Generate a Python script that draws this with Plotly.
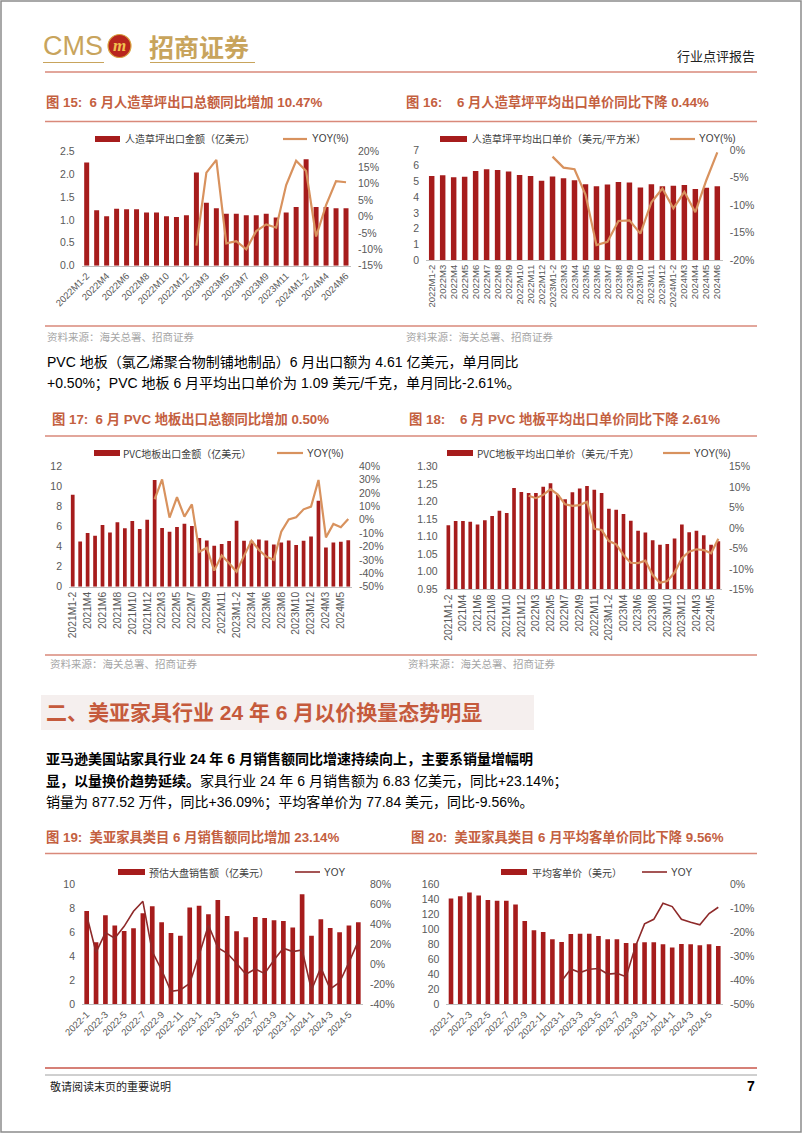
import plotly.graph_objects as go

W, H = 802, 1133
def X(p): return p / W
def Y(p): return 1 - p / H

BAR = "#A61C1C"
ORANGE = "#D8925E"
MAROON = "#8E2A2A"
TITLE = "#C4603F"
RULE = "#D9897A"
GOLD = "#C8A45C"
TICK = "#595959"
FONT = "Liberation Sans, Noto Sans CJK SC, sans-serif"
CJK = "Noto Sans CJK SC, sans-serif"

# ---------------- Data ----------------
turf_months = ["2022M1-2", "2022M3", "2022M4", "2022M5", "2022M6", "2022M7", "2022M8", "2022M9",
               "2022M10", "2022M11", "2022M12", "2023M1-2", "2023M3", "2023M4", "2023M5", "2023M6",
               "2023M7", "2023M8", "2023M9", "2023M10", "2023M11", "2023M12", "2024M1-2", "2024M3",
               "2024M4", "2024M5", "2024M6"]
turf_export = [2.25, 1.21, 1.08, 1.24, 1.23, 1.23, 1.16, 1.16, 1.08, 1.06, 1.10, 2.03, 1.37, 1.25,
               1.13, 1.13, 1.10, 1.10, 1.13, 1.05, 1.16, 1.28, 2.32, 1.28, 1.28, 1.25, 1.25]
turf_export_yoy = [-8.9, 13.4, 17.3, -8.2, -7.5, -10.0, -4.4, -2.4, -3.4, 9.6, 17.0, 13.9, -6.1,
                   3.5, 10.8, 10.47]  # from 2023M1-2
turf_price = [5.35, 5.39, 5.27, 5.29, 5.67, 5.77, 5.73, 5.63, 5.41, 5.35, 5.05, 5.31, 5.20, 5.07,
              4.82, 4.69, 4.80, 4.97, 4.93, 4.61, 4.82, 4.69, 4.73, 4.78, 4.52, 4.59, 4.69]
turf_price_yoy = [-1.2, -3.2, -3.5, -8.1, -17.3, -16.7, -12.9, -12.8, -15.2, -9.5, -7.0, -10.6,
                  -7.6, -11.3, -5.5, -0.44]  # from 2023M1-2

pvc_months = ["2021M1-2", "2021M3", "2021M4", "2021M5", "2021M6", "2021M7", "2021M8", "2021M9",
              "2021M10", "2021M11", "2021M12", "2022M1-2", "2022M3", "2022M4", "2022M5", "2022M6",
              "2022M7", "2022M8", "2022M9", "2022M10", "2022M11", "2022M12", "2023M1-2", "2023M3",
              "2023M4", "2023M5", "2023M6", "2023M7", "2023M8", "2023M9", "2023M10", "2023M11",
              "2023M12", "2024M1-2", "2024M3", "2024M4", "2024M5", "2024M6"]
pvc_export = [9.15, 4.50, 5.34, 5.07, 6.13, 5.40, 6.40, 5.80, 6.53, 5.73, 6.66, 10.6, 5.83, 5.47,
              5.93, 6.26, 6.03, 4.84, 4.60, 4.08, 4.24, 4.54, 6.56, 4.57, 4.57, 4.70, 4.60, 4.20,
              4.40, 4.60, 4.14, 4.57, 5.00, 8.55, 3.90, 4.40, 4.47, 4.61]
pvc_export_yoy = [15.2, 30.0, 1.5, 16.7, 2.2, 11.4, -24.0, -21.0, -38.0, -26.6, -32.6, -38.8,
                  -27.0, -15.7, -22.6, -27.6, -30.0, -9.0, 0.2, 1.7, 7.7, 9.7, 29.6, -13.2, -3.2,
                  -5.7, 0.5]  # from 2022M1-2
pvc_price = [1.133, 1.145, 1.145, 1.143, 1.135, 1.147, 1.159, 1.174, 1.168, 1.239, 1.228, 1.225,
             1.225, 1.243, 1.253, 1.219, 1.207, 1.227, 1.238, 1.245, 1.234, 1.225, 1.180, 1.177,
             1.165, 1.146, 1.117, 1.112, 1.090, 1.077, 1.079, 1.095, 1.135, 1.113, 1.117, 1.104,
             1.077, 1.087]
pvc_price_yoy = [7.9, 7.3, 8.1, 9.5, 8.2, 5.8, 5.4, 5.6, 6.4, -0.2, -0.5, -3.2, -4.0, -6.6, -8.5,
                 -8.6, -8.0, -11.5, -13.4, -13.0, -10.9, -7.4, -5.8, -5.2, -5.4, -6.2,
                 -2.61]  # from 2022M1-2

furn_months = ["2022-1", "2022-2", "2022-3", "2022-4", "2022-5", "2022-6", "2022-7", "2022-8",
               "2022-9", "2022-10", "2022-11", "2022-12", "2023-1", "2023-2", "2023-3", "2023-4",
               "2023-5", "2023-6", "2023-7", "2023-8", "2023-9", "2023-10", "2023-11", "2023-12",
               "2024-1", "2024-2", "2024-3", "2024-4", "2024-5", "2024-6"]
furn_sales = [7.78, 5.17, 7.42, 6.56, 6.11, 6.33, 7.58, 8.17, 6.83, 5.94, 5.72, 8.06, 8.22, 7.50,
              8.69, 7.36, 6.08, 5.58, 7.28, 7.19, 7.00, 6.94, 6.39, 9.17, 5.72, 7.08, 6.36, 6.00,
              6.56, 6.83]
furn_sales_yoy = [49.0, 12.0, 31.7, 26.0, 38.0, 53.0, 63.0, 12.7, -5.7, -27.0, -25.7, -19.0, 9.3,
                  39.0, 16.7, 11.0, 1.0, -10.0, -4.7, -9.3, 4.3, 16.0, 12.7, 14.3, -25.7, -3.3,
                  -24.7, -18.0, 2.0, 23.14]
furn_aov = [141, 144, 149, 145, 139, 138, 138, 133, 111, 98.7, 96.4, 86.7, 83.1, 93.8, 94.2, 94.2,
            91.1, 86.7, 86.7, 81.8, 81.3, 82.7, 82.7, 80.0, 75.6, 80.4, 80.0, 78.7, 80.0, 77.84]
furn_aov_yoy = [-40.3, -35.3, -36.8, -35.4, -35.1, -37.4, -37.1, -38.5, -26.0, -16.5, -14.6,
                -7.9, -9.3, -14.6, -15.8, -16.9, -12.2, -9.56]  # from 2023-1

# tick labels
t_turf_l = [0, 0.5, 1.0, 1.5, 2.0, 2.5]
t_turf_lt = ["0.0", "0.5", "1.0", "1.5", "2.0", "2.5"]
t_turf_r = [-15, -10, -5, 0, 5, 10, 15, 20]
t_turf_rt = ["-15%", "-10%", "-5%", "0%", "5%", "10%", "15%", "20%"]
t_tp_l = [0, 1, 2, 3, 4, 5, 6, 7]
t_tp_r = [-20, -15, -10, -5, 0]
t_tp_rt = ["-20%", "-15%", "-10%", "-5%", "0%"]
t_pe_l = [0, 2, 4, 6, 8, 10, 12]
t_pe_r = [-50, -40, -30, -20, -10, 0, 10, 20, 30, 40]
t_pe_rt = ["-50%", "-40%", "-30%", "-20%", "-10%", "0%", "10%", "20%", "30%", "40%"]
t_pp_l = [0.95, 1.00, 1.05, 1.10, 1.15, 1.20, 1.25, 1.30]
t_pp_lt = ["0.95", "1.00", "1.05", "1.10", "1.15", "1.20", "1.25", "1.30"]
t_pp_r = [-15, -10, -5, 0, 5, 10, 15]
t_pp_rt = ["-15%", "-10%", "-5%", "0%", "5%", "10%", "15%"]
t_fs_l = [0, 2, 4, 6, 8, 10]
t_fs_r = [-40, -20, 0, 20, 40, 60, 80]
t_fs_rt = ["-40%", "-20%", "0%", "20%", "40%", "60%", "80%"]
t_fa_l = [0, 20, 40, 60, 80, 100, 120, 140, 160]
t_fa_r = [-50, -40, -30, -20, -10, 0]
t_fa_rt = ["-50%", "-40%", "-30%", "-20%", "-10%", "0%"]

charts = [
    dict(cats=turf_months, bars=turf_export, yoy=turf_export_yoy, xd=(81.7, 351), yd=(265.7, 151),
         yr=(0, 2.5), yt=t_turf_l, ytt=t_turf_lt, y2r=(-15, 20), y2t=t_turf_r, y2tt=t_turf_rt,
         xt=turf_months[::2], ang=-45, lc=ORANGE, lw=2.2, xfs=9.5),
    dict(cats=turf_months, bars=turf_price, yoy=turf_price_yoy, xd=(426.2, 722.8), yd=(260, 150),
         yr=(0, 7), yt=t_tp_l, ytt=[str(v) for v in t_tp_l], y2r=(-20, 0), y2t=t_tp_r, y2tt=t_tp_rt,
         xt=turf_months, ang=-90, lc=ORANGE, lw=2.2, xfs=9.5),
    dict(cats=pvc_months, bars=pvc_export, yoy=pvc_export_yoy, xd=(69, 352), yd=(586.7, 466),
         yr=(0, 12), yt=t_pe_l, ytt=[str(v) for v in t_pe_l], y2r=(-50, 40), y2t=t_pe_r, y2tt=t_pe_rt,
         xt=pvc_months[::2], ang=-90, lc=ORANGE, lw=2.2, xfs=10.3),
    dict(cats=pvc_months, bars=pvc_price, yoy=pvc_price_yoy, xd=(444.7, 722), yd=(589.3, 466.7),
         yr=(0.95, 1.30), yt=t_pp_l, ytt=t_pp_lt, y2r=(-15, 15), y2t=t_pp_r, y2tt=t_pp_rt,
         xt=pvc_months[::2], ang=-90, lc=ORANGE, lw=2.2, xfs=10.3),
    dict(cats=furn_months, bars=furn_sales, yoy=furn_sales_yoy, xd=(82, 363), yd=(1004.3, 884.3),
         yr=(0, 10), yt=t_fs_l, ytt=[str(v) for v in t_fs_l], y2r=(-40, 80), y2t=t_fs_r, y2tt=t_fs_rt,
         xt=furn_months[::2], ang=-45, lc=MAROON, lw=1.6, xfs=9.5),
    dict(cats=furn_months, bars=furn_aov, yoy=furn_aov_yoy, xd=(446.4, 722.9), yd=(1004.3, 884.3),
         yr=(0, 160), yt=t_fa_l, ytt=[str(v) for v in t_fa_l], y2r=(-50, 0), y2t=t_fa_r, y2tt=t_fa_rt,
         xt=furn_months[::2], ang=-45, lc=MAROON, lw=1.6, xfs=9.5),
]

fig = go.Figure()
layout = dict(width=W, height=H, margin=dict(l=0, r=0, t=0, b=0, pad=0, autoexpand=False),
              template="none", paper_bgcolor="white",
              plot_bgcolor="rgba(0,0,0,0)", showlegend=False, font=dict(family=FONT, color=TICK))

for i, c in enumerate(charts):
    k = i + 1
    xa = "x" if k == 1 else f"x{k}"
    ya1 = 2 * k - 1
    ya2 = 2 * k
    ya1n = "y" if ya1 == 1 else f"y{ya1}"
    ya2n = f"y{ya2}"
    n = len(c["cats"])
    fig.add_trace(go.Bar(x=c["cats"], y=c["bars"], xaxis=xa, yaxis=ya1n, marker_color=BAR,
                         width=0.5, marker_line_width=0))
    fig.add_trace(go.Scatter(x=c["cats"][n - len(c["yoy"]):], y=c["yoy"], xaxis=xa, yaxis=ya2n,
                             mode="lines", line=dict(color=c["lc"], width=c["lw"])))
    layout["xaxis" if k == 1 else f"xaxis{k}"] = dict(
        domain=[X(c["xd"][0]), X(c["xd"][1])], anchor=ya1n, type="category", automargin=False,
        range=[-0.5, n - 0.5], tickmode="array", tickvals=c["xt"], ticktext=c["xt"],
        tickangle=c["ang"], showline=True, linecolor="#BFBFBF", linewidth=1, ticks="",
        showgrid=False, zeroline=False, tickfont=dict(size=c["xfs"], color=TICK, family=FONT))
    layout["yaxis" if ya1 == 1 else f"yaxis{ya1}"] = dict(
        domain=[Y(c["yd"][0]), Y(c["yd"][1])], anchor=xa, range=list(c["yr"]), automargin=False,
        tickmode="array", tickvals=c["yt"], ticktext=c["ytt"], showgrid=False, zeroline=False,
        showline=False, ticks="", ticklabelstandoff=6, tickfont=dict(size=10.5, color=TICK, family=FONT))
    layout[f"yaxis{ya2}"] = dict(
        overlaying=ya1n, side="right", anchor=xa, range=list(c["y2r"]), automargin=False,
        tickmode="array", tickvals=c["y2t"], ticktext=c["y2tt"], showgrid=False, zeroline=False,
        showline=False, ticks="", ticklabelstandoff=6, tickfont=dict(size=10.5, color=TICK, family=FONT))

shapes = []
ann = []

def text(x, y, s, size, color="#000000", anchor="left", family=CJK):
    ann.append(dict(x=X(x), y=Y(y), xref="paper", yref="paper", text=s, showarrow=False,
                    xanchor=anchor, yanchor="middle", font=dict(size=size, color=color, family=family)))

def hline(y, x0, x1, color, w=1.5):
    shapes.append(dict(type="line", xref="paper", yref="paper", x0=X(x0), x1=X(x1), y0=Y(y), y1=Y(y),
                       line=dict(color=color, width=w)))

def rect(x0, y0, x1, y1, fill, line=None):
    shapes.append(dict(type="rect", xref="paper", yref="paper", x0=X(x0), x1=X(x1), y0=Y(y1), y1=Y(y0),
                       fillcolor=fill, line=dict(width=0) if line is None else line, layer="below"))

# page border
shapes.append(dict(type="rect", xref="paper", yref="paper", x0=X(1), x1=X(801), y0=Y(1132), y1=Y(1),
                   line=dict(color="#8C8C8C", width=1.5), fillcolor="rgba(0,0,0,0)"))

# header
text(41, 46, "CMS", 27, GOLD, family="Liberation Sans Narrow, Liberation Sans")
shapes.append(dict(type="circle", xref="paper", yref="paper", x0=X(108), x1=X(131), y0=Y(57.5), y1=Y(34.5),
                   fillcolor="#B8261E", line=dict(color="#D9A441", width=1.2)))
ann.append(dict(x=X(119.5), y=Y(46), xref="paper", yref="paper", text="<b><i>m</i></b>", showarrow=False,
                xanchor="center", yanchor="middle",
                font=dict(size=17, color="#F2C14E", family="Liberation Serif")))
text(147, 46, "<b>招商证券</b>", 25, GOLD)
hline(62.5, 43, 104, GOLD, 1.2)
hline(62.5, 150, 255, GOLD, 1.2)
text(757, 56, "行业点评报告", 13, "#222222", anchor="right")
hline(72, 45, 757, RULE, 1.5)

TS = 13.3
# figure titles row 1
text(44, 102, "<b>图 15:  6 月人造草坪出口总额同比增加 10.47%</b>", TS, TITLE, family=FONT)
text(404, 102, "<b>图 16:    6 月人造草坪平均出口单价同比下降 0.44%</b>", TS, TITLE, family=FONT)
hline(121.5, 45, 757, RULE, 1.5)
hline(326, 45, 757, RULE, 1.5)
text(45, 336, "资料来源：海关总署、招商证券", 10.5, "#A6A6A6")
text(404, 336, "资料来源：海关总署、招商证券", 10.5, "#A6A6A6")

text(45, 362, "PVC 地板（氯乙烯聚合物制铺地制品）6 月出口额为 4.61 亿美元，单月同比", 14, "#000000", family=FONT)
text(45, 383, "+0.50%；PVC 地板 6 月平均出口单价为 1.09 美元/千克，单月同比-2.61%。", 14, "#000000", family=FONT)

text(50, 419, "<b>图 17:  6 月 PVC 地板出口总额同比增加 0.50%</b>", TS, TITLE, family=FONT)
text(407, 419, "<b>图 18:    6 月 PVC 地板平均出口单价同比下降 2.61%</b>", TS, TITLE, family=FONT)
hline(436, 45, 757, RULE, 1.5)
hline(655, 45, 757, RULE, 1.5)
text(48, 663, "资料来源：海关总署、招商证券", 10.5, "#A6A6A6")
text(406, 663, "资料来源：海关总署、招商证券", 10.5, "#A6A6A6")

# section heading
rect(41, 695, 534, 730, "#F5EFEE")
text(44, 712, "<b>二、美亚家具行业 24 年 6 月以价换量态势明显</b>", 21, "#C55A3C", family=FONT)

text(44, 759, "<b>亚马逊美国站家具行业 24 年 6 月销售额同比增速持续向上，主要系销量增幅明</b>", 14, "#000000", family=FONT)
text(44, 781, "<b>显，以量换价趋势延续。</b>家具行业 24 年 6 月销售额为 6.83 亿美元，同比+23.14%；", 14, "#000000", family=FONT)
text(44, 802, "销量为 877.52 万件，同比+36.09%；平均客单价为 77.84 美元，同比-9.56%。", 14, "#000000", family=FONT)

text(44, 837, "<b>图 19:  美亚家具类目 6 月销售额同比增加 23.14%</b>", TS, TITLE, family=FONT)
text(409, 837, "<b>图 20:  美亚家具类目 6 月平均客单价同比下降 9.56%</b>", TS, TITLE, family=FONT)
hline(853.5, 45, 757, RULE, 1.5)

# footer
hline(1068, 45, 757, "#C9564A", 1.6)
hline(1075, 45, 757, "#A0A0A0", 1)
text(48, 1086, "敬请阅读末页的重要说明", 11, "#222222")
text(757, 1086, "<b>7</b>", 14, "#000000", anchor="right", family=FONT)

# legends
LEG = "#404040"
legends = [
    (139, 95, 120, 123, "人造草坪出口金额（亿美元）", 283, 307, 310, "YOY(%)", ORANGE, 2.2),
    (139, 440, 467, 470, "人造草坪平均出口单价（美元/平方米）", 670, 695, 697, "YOY(%)", ORANGE, 2.2),
    (453, 94, 120, 121, "PVC地板出口金额（亿美元）", 277, 303, 305, "YOY(%)", ORANGE, 2.2),
    (453, 447, 473, 475, "PVC地板平均出口单价（美元/千克）", 663, 690, 692, "YOY(%)", ORANGE, 2.2),
    (872, 118, 145, 147, "预估大盘销售额（亿美元）", 295, 320, 322, "YOY", MAROON, 1.6),
    (872, 501, 527, 530, "平均客单价（美元）", 642, 667, 669, "YOY", MAROON, 1.6),
]
for (ly, s0, s1, tx, lab, l0, l1, tx2, lab2, lc, lw) in legends:
    shapes.append(dict(type="rect", xref="paper", yref="paper", x0=X(s0), x1=X(s1), y0=Y(ly + 3),
                       y1=Y(ly - 3), fillcolor=BAR, line=dict(width=0)))
    text(tx, ly, lab, 10, LEG)
    hline(ly, l0, l1, lc, lw)
    text(tx2, ly, lab2, 10, LEG, family=FONT)

layout["shapes"] = shapes
layout["annotations"] = ann
fig.update_layout(**layout)
fig.write_html("out.html", config={"displayModeBar": False},
               post_script="document.body.style.margin='0';document.body.style.padding='0';"
                           "document.body.style.overflow='hidden';")
